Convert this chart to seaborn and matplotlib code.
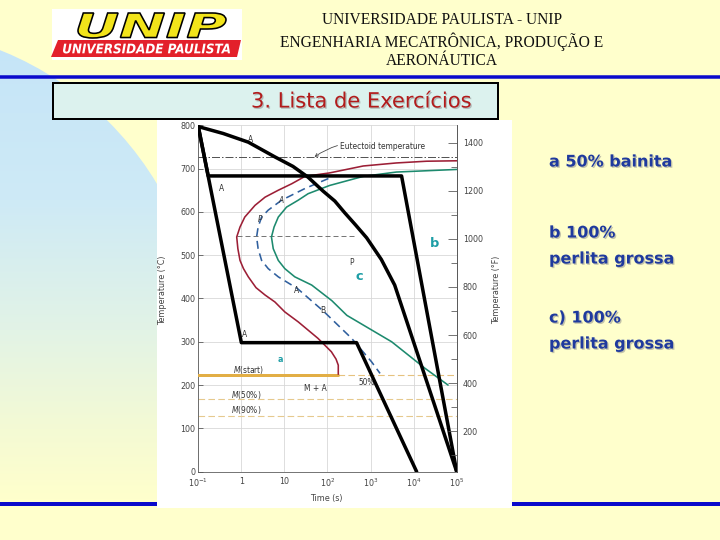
import numpy as np
import pandas as pd
import matplotlib
matplotlib.use("Agg")
import matplotlib.pyplot as plt
import seaborn as sns
from matplotlib.patches import Rectangle, Polygon, Circle, PathPatch
from matplotlib.textpath import TextPath
from matplotlib.font_manager import FontProperties
from matplotlib.transforms import Affine2D
import matplotlib.patheffects as pe
from matplotlib.ticker import NullLocator

sns.set_theme(style="white")
plt.rcParams['font.family'] = ['DejaVu Sans']

# ---------------- data (time in s, temperature in degC) ----------------
red_time = [1e5, 19950, 3980, 676, 112, 30, 14.8, 7.2, 3.55, 2.07, 1.2, 0.93, 0.78, 0.83, 0.93,
            1.12, 1.45, 2.19, 3.55, 6.0, 10.2, 20.9, 60, 123, 158, 178, 178]
red_temp = [718, 717, 713, 706, 690, 682, 665, 650, 634, 615, 588, 565, 542, 515, 488,
            469, 450, 425, 408, 392, 369, 346, 308, 277, 260, 246, 225]

green_time = [1e5, 3980, 676, 112, 35.5, 20.9, 11.2, 7.2, 5.75, 5.0, 5.5, 7.2, 10.2, 17.4, 43,
              126, 282, 3090, 18200, 63100]
green_temp = [698, 692, 682, 661, 642, 627, 611, 588, 565, 542, 515, 488, 469, 450, 431,
              395, 361, 300, 239, 200]

blue_time = [105, 30, 8.6, 4.2, 2.95, 2.45, 2.26, 2.45, 2.95, 4.2, 7.2, 20, 80, 363, 1050, 1660]
blue_temp = [677, 654, 627, 604, 588, 565, 542, 515, 488, 469, 450, 423, 371, 308, 254, 227]

path_a_time = [0.1, 1.0, 473, 11750]
path_a_temp = [797, 298, 298, 0]
path_b_time = [0.1, 0.17, 5250, 1e5]
path_b_temp = [797, 683, 683, 0]
path_c_time = [0.1, 0.38, 1.45, 6.0, 15.8, 35.5, 79, 148, 251, 447, 813, 1780, 3630, 1e5]
path_c_temp = [797, 781, 761, 727, 705, 680, 648, 625, 598, 570, 540, 490, 431, 0]

eutectoid_temp = 727
nose_line_temp = 545
nose_line_time = [0.78, 437]
ms_temp = 223
ms_end_time = 178
m50_temp = 168
m90_temp = 129

x_ticks = [0.1, 1, 10, 100, 1e3, 1e4, 1e5]
x_tick_labels = [r'$10^{-1}$', '1', '10', r'$10^{2}$', r'$10^{3}$', r'$10^{4}$', r'$10^{5}$']
y_ticks = [0, 100, 200, 300, 400, 500, 600, 700, 800]
f_major = [200, 400, 600, 800, 1000, 1200, 1400]
f_minor = [100, 300, 500, 700, 900, 1100, 1300]

header_lines = ["UNIVERSIDADE PAULISTA - UNIP", "ENGENHARIA MECATRÔNICA, PRODUÇÃO E", "AERONÁUTICA"]
title_text = "3. Lista de Exercícios"
side_texts = ["a 50% bainita", "b 100%", "perlita grossa", "c) 100%", "perlita grossa"]

BG = '#FFFFCC'
BLUE = '#0A0ACC'
TEAL = '#1E9EA6'
SIDE = '#1F3A9E'

fig = plt.figure(figsize=(10, 7.5), dpi=72)
fig.patch.set_facecolor(BG)

# --------------- slide background (pixel coordinates) ---------------
bg = fig.add_axes([0, 0, 1, 1], zorder=0)
bg.set_xlim(0, 720)
bg.set_ylim(540, 0)
bg.axis('off')
bg.add_patch(Rectangle((0, 0), 720, 540, fc=BG, ec='none', zorder=0))

# gradient disc on the left
stops_y = [25, 200, 330, 430, 500]
stops_c = np.array([[196, 228, 248], [206, 234, 246], [226, 243, 230], [244, 250, 212], [255, 255, 204]]) / 255
ys = np.linspace(25, 500, 240)
grad = np.stack([np.interp(ys, stops_y, stops_c[:, k]) for k in range(3)], axis=1)[:, None, :]
im = bg.imshow(grad, extent=(-450, 220, 500, 25), aspect='auto', zorder=1, interpolation='bilinear')
disc = Circle((-120, 350), 323, transform=bg.transData)
im.set_clip_path(disc)
bg.set_xlim(0, 720)
bg.set_ylim(540, 0)

# blue rules
bg.plot([0, 720], [76.5, 76.5], color=BLUE, lw=3.5, zorder=3, solid_capstyle='butt')
bg.plot([0, 720], [504, 504], color=BLUE, lw=4, zorder=3, solid_capstyle='butt')

# logo
bg.add_patch(Rectangle((52, 9), 190, 51, fc='white', ec='none', zorder=3))
bg.add_patch(Polygon([(58, 40), (241, 40), (237, 57), (51, 57)], closed=True,
                     fc='#E3202B', ec='none', zorder=4))
fp = FontProperties(family='DejaVu Sans', weight='bold', style='italic')
tp = TextPath((0, 0), "UNIP", size=30, prop=fp)
bb = tp.get_extents()
x0, x1, y0, y1 = 78, 226, 13, 38
tr = Affine2D().translate(-bb.x0, -bb.y0).scale((x1 - x0) / bb.width, -(y1 - y0) / bb.height).translate(x0, y1)
bg.add_patch(PathPatch(tr.transform_path(tp), fc='#F2E41A', ec='black', lw=1.6, zorder=5))
tp2 = TextPath((0, 0), "UNIVERSIDADE PAULISTA", size=12, prop=fp)
bb2 = tp2.get_extents()
x0, x1, y0, y1 = 63, 230, 43.5, 53.5
tr2 = Affine2D().translate(-bb2.x0, -bb2.y0).scale((x1 - x0) / bb2.width, -(y1 - y0) / bb2.height).translate(x0, y1)
bg.add_patch(PathPatch(tr2.transform_path(tp2), fc='white', ec='none', zorder=5))

# header text
for yy, s in zip([20, 42, 61], header_lines):
    bg.text(442, yy, s, ha='center', va='center', fontsize=15.5,
            family=['Liberation Serif', 'DejaVu Serif'], color='#111111', zorder=5)

# title box
shadow = [pe.withSimplePatchShadow(offset=(1.3, -1.3), shadow_rgbFace='#888888', alpha=0.5)]
bg.add_patch(Rectangle((53, 83), 445, 36, fc='#DCF2EE', ec='black', lw=2, zorder=4))
bg.text(361, 101.5, title_text, ha='center', va='center', fontsize=21, color='#B21C1C',
        family=['DejaVu Sans'], zorder=5, path_effects=shadow)

# white chart panel
bg.add_patch(Rectangle((157, 120), 355, 388, fc='white', ec='none', zorder=6))

# side texts
for (yy, s) in zip([162, 233, 259, 318, 344], side_texts):
    bg.text(549, yy, s, ha='left', va='center', fontsize=16, fontweight='bold', color=SIDE,
            family=['DejaVu Sans'], zorder=7, path_effects=shadow)

# --------------- TTT chart ---------------
ax = fig.add_axes([0.2754, 0.1265, 0.3589, 0.6415], zorder=10)
ax.patch.set_alpha(0)
ax.set_xscale('log')
ax.set_xlim(0.1, 1e5)
ax.set_ylim(0, 800)


def sline(x, y, **kw):
    df = pd.DataFrame({'t': x, 'T': y})
    sns.lineplot(data=df, x='t', y='T', sort=False, estimator=None, ax=ax,
                 solid_joinstyle='round', dash_joinstyle='round', **kw)


# reference lines
ax.axhline(eutectoid_temp, color='#555555', lw=1, linestyle=(0, (8, 2, 1.5, 2)), zorder=2)
sline(nose_line_time, [nose_line_temp, nose_line_temp], color='#777777', lw=1, linestyle=(0, (5, 3)), zorder=2)
sline([0.1, ms_end_time], [ms_temp, ms_temp], color='#E2AE45', lw=3, zorder=3)
sline([ms_end_time, 1e5], [ms_temp, ms_temp], color='#E6C27E', lw=1.1, linestyle=(0, (6, 3)), zorder=2)
ax.axhline(m50_temp, color='#E6C98E', lw=1.1, linestyle=(0, (6, 3)), zorder=2)
ax.axhline(m90_temp, color='#E6C98E', lw=1.1, linestyle=(0, (6, 3)), zorder=2)

# transformation curves
sline(red_time, red_temp, color='#9C1F36', lw=1.6, zorder=4)
sline(green_time, green_temp, color='#1D8A6E', lw=1.6, zorder=4)
sline(blue_time, blue_temp, color='#2F5F9E', lw=1.6, linestyle=(0, (5, 3)), zorder=4)

# cooling paths
for tt, TT in [(path_a_time, path_a_temp), (path_b_time, path_b_temp), (path_c_time, path_c_temp)]:
    sline(tt, TT, color='black', lw=3.5, zorder=6)

# labels inside chart
lab = dict(fontsize=7.5, color='#333333', zorder=5)
ax.text(1.6, 768, 'A', ha='center', va='center', **lab)
ax.text(0.35, 654, 'A', ha='center', va='center', **lab)
ax.text(1.2, 317, 'A', ha='center', va='center', **lab)
ax.text(2.7, 583, 'P', ha='center', va='center', fontstyle='italic', **lab)
ax.text(8.5, 627, 'A', ha='center', va='center', fontstyle='italic', **lab)
ax.text(19, 419, 'A', ha='center', va='center', **lab)
ax.text(79, 373, 'B', ha='center', va='center', **lab)
ax.text(370, 482, 'P', ha='center', va='center', **lab)
ax.text(0.65, 235, r'$M$(start)', ha='left', va='center', **lab)
ax.text(0.59, 178, r'$M$(50%)', ha='left', va='center', **lab)
ax.text(0.59, 142, r'$M$(90%)', ha='left', va='center', **lab)
ax.text(52, 192, 'M + A', ha='center', va='center', **lab)
ax.text(520, 205, '50%', ha='left', va='center', **lab)
ax.annotate('Eutectoid temperature', xy=(50, 727), xytext=(195, 750), ha='left', va='center',
            fontsize=7.5, color='#333333', zorder=5,
            arrowprops=dict(arrowstyle='->', color='#444444', lw=0.8, connectionstyle='arc3,rad=0.25',
                            shrinkA=0, shrinkB=0))

# teal student marks
ax.text(31000, 527, 'b', ha='center', va='center', fontsize=13, fontweight='bold', color=TEAL, zorder=7)
ax.text(560, 450, 'c', ha='center', va='center', fontsize=13, fontweight='bold', color=TEAL, zorder=7)
ax.text(8, 260, 'a', ha='center', va='center', fontsize=8, fontweight='bold', color=TEAL, zorder=7)

# axes styling
ax.set_xticks(x_ticks)
ax.set_xticklabels(x_tick_labels)
ax.xaxis.set_minor_locator(NullLocator())
ax.set_yticks(y_ticks)
ax.tick_params(axis='both', direction='in', length=5, width=0.8, color='#555555',
               labelsize=8, labelcolor='#444444', pad=3)
ax.tick_params(axis='x', pad=5)
ax.grid(True, color='#d6d6d6', lw=0.8)
ax.set_axisbelow(True)
for s in ['left', 'bottom', 'right']:
    ax.spines[s].set_visible(True)
    ax.spines[s].set_color('#555555')
    ax.spines[s].set_linewidth(0.8)
ax.spines['top'].set_visible(False)
ax.set_xlabel('')
ax.set_ylabel('')
ax.text(0.497, -0.077, 'Time (s)', transform=ax.transAxes, ha='center', va='center',
        fontsize=8, color='#444444')
ax.text(-0.14, 0.525, 'Temperature (°C)', transform=ax.transAxes, ha='center', va='center',
        rotation=90, fontsize=8, color='#444444')

ax2 = ax.twinx()
ax2.set_ylim(0 * 9 / 5 + 32, 800 * 9 / 5 + 32)
ax2.set_yticks(f_major)
ax2.set_yticks(f_minor, minor=True)
ax2.tick_params(axis='y', which='major', direction='in', length=9, width=0.8, color='#555555',
                labelsize=8, labelcolor='#444444', pad=6)
ax2.tick_params(axis='y', which='minor', direction='in', length=6, width=0.8, color='#555555')
ax2.grid(False)
for s in ['left', 'top', 'bottom']:
    ax2.spines[s].set_visible(False)
ax2.spines['right'].set_color('#555555')
ax2.spines['right'].set_linewidth(0.8)
ax2.text(1.156, 0.525, 'Temperature (°F)', transform=ax.transAxes, ha='center', va='center',
         rotation=90, fontsize=8, color='#444444')

fig.savefig('out.png', dpi=72, facecolor=BG)
